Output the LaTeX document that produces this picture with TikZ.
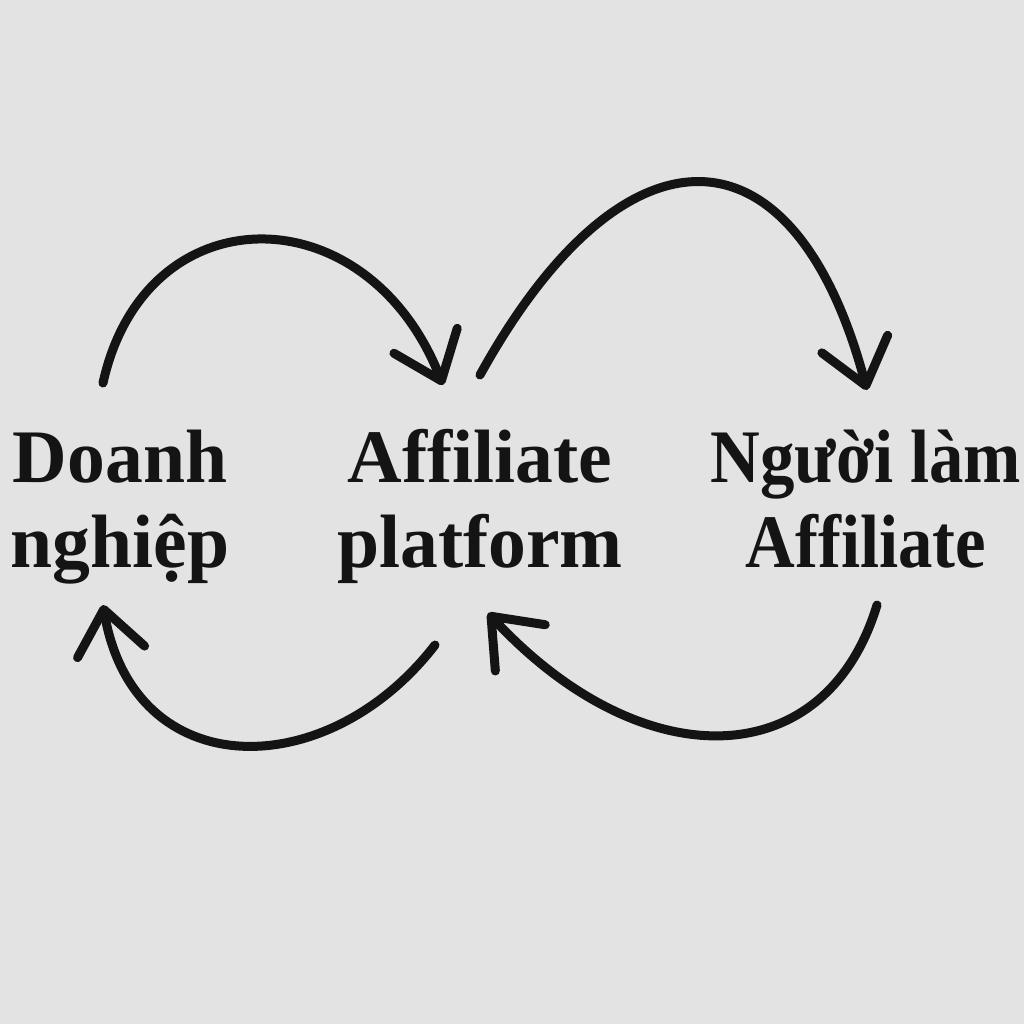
\documentclass[tikz,border=0pt]{standalone}
\usepackage{fontspec}
\setmainfont{Liberation Serif}
\newfontfamily\narrowserif[FakeStretch=0.91]{Liberation Serif}
\usetikzlibrary{arrows.meta}
\definecolor{paper}{RGB}{227,227,227}
\definecolor{ink}{RGB}{20,20,20}
\tikzset{
	party/.style={align=center, text=ink, inner sep=0pt, anchor=base,
		font=\fontsize{21.5}{24}\selectfont\bfseries},
	flow/.style={draw=ink, line width=0.09cm, line cap=round,
		-{Straight Barb[length=0.43cm, width=0.68cm, round]}},
}
\begin{document}
\begin{tikzpicture}[x=0.01cm, y=-0.01cm]
		%background
		\useasboundingbox (0,0) rectangle (1024,1024);
		\fill[paper] (0,0) rectangle (1024,1024);
		%labels (anchored at the baseline of the second line)
		\node (doanh) at(120,567) [party]{Doanh\\nghiệp};
		\node (platform) at(480,567) [party]{Affiliate\\platform};
		\node (nguoi) at(866,567) [party, font=\fontsize{21.5}{24}\narrowserif\bfseries]{Người làm\\Affiliate};
		%ends of the arrows
		\coordinate (doanh-top) at(103,383);
		\coordinate (platform-topleft) at(443,385);
		\coordinate (platform-topright) at(480,375);
		\coordinate (nguoi-top) at(867,390);
		\coordinate (nguoi-bottom) at(877,605);
		\coordinate (platform-bottomright) at(488,613);
		\coordinate (platform-bottomleft) at(435,645);
		\coordinate (doanh-bottom) at(103,605);
		%upper arrows
		\draw[flow] (doanh-top) .. controls (145,192) and (367,192) .. (platform-topleft);
		\draw[flow] (platform-topright) .. controls (623,116) and (794,116) .. (nguoi-top);
		%lower arrows
		\draw[flow] (nguoi-bottom) .. controls (825,777) and (640,777) .. (platform-bottomright);
		\draw[flow] (platform-bottomleft) .. controls (327,785) and (134,785) .. (doanh-bottom);
\end{tikzpicture}
\end{document}
